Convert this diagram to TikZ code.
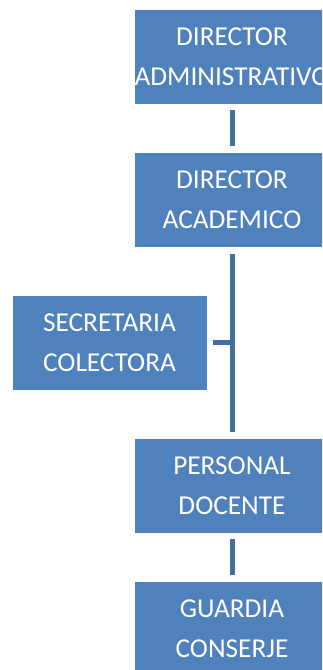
\documentclass[tikz,border=0pt]{standalone}
\usepackage{fontspec}
\setmainfont{Carlito}
\definecolor{boxblue}{HTML}{4F81BD}
\definecolor{linkblue}{HTML}{41719C}
\begin{document}
\begin{tikzpicture}[x=1pt,y=-1pt,
  orgbox/.style={rectangle, fill=boxblue, draw=white, line width=0.6pt,
    minimum width=196pt, minimum height=95pt, inner sep=0pt, text=white,
    align=center, font=\fontsize{27.3}{40}\selectfont},
  link/.style={draw=linkblue, line width=5pt, shorten <=6pt, shorten >=6pt}]
\useasboundingbox (0,0) rectangle (322,670);
\clip (0,0) rectangle (322,670);
\node[orgbox] (da) at (232,56.5) {DIRECTOR\\ADMINISTRATIVO};
\node[orgbox] (dac) at (232,200) {DIRECTOR\\ACADEMICO};
\node[orgbox, minimum width=195pt] (sec) at (109.5,342.5) {SECRETARIA\\COLECTORA};
\node[orgbox] (pd) at (232,485.5) {PERSONAL\\DOCENTE};
\node[orgbox] (gc) at (232,628.5) {GUARDIA\\CONSERJE};
\coordinate (j) at (232,342.5);
\draw[link] (da.south) -- (dac.north);
\draw[link] (dac.south) -- (pd.north);
\draw[link, shorten >=0pt] (sec.east) -- (j);
\draw[link] (pd.south) -- (gc.north);
\end{tikzpicture}
\end{document}
